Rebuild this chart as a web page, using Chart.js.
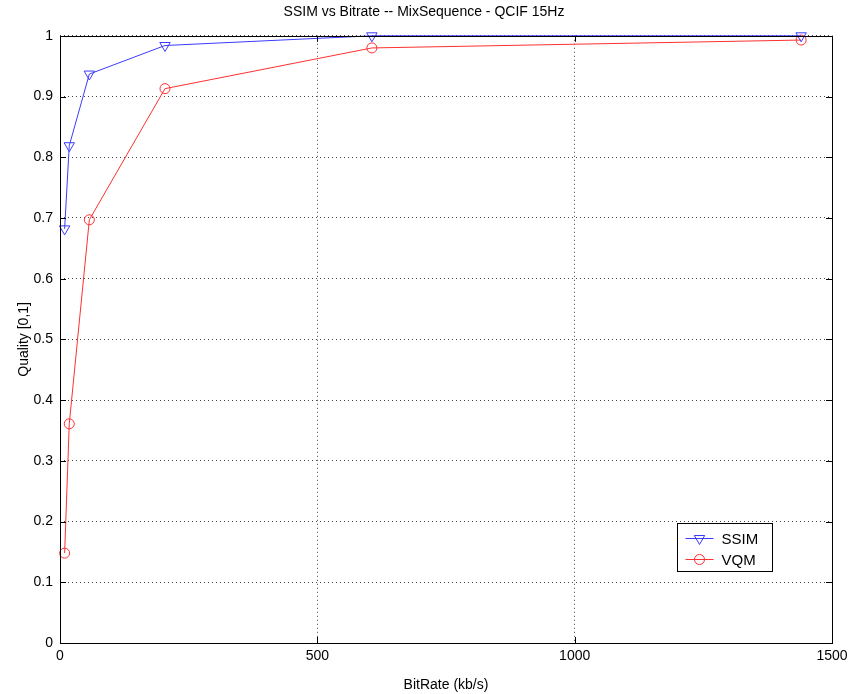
<!DOCTYPE html>
<html>
<head>
<meta charset="utf-8">
<script src="https://cdn.jsdelivr.net/npm/chart.js@4/dist/chart.umd.min.js"></script>
<style>
  html, body { margin: 0; padding: 0; background: #fff; }
  #wrap { width: 850px; height: 694px; position: relative; }
</style>
</head>
<body>
<div id="wrap"><canvas id="c"></canvas></div>
<script>
  // values
  const bitrate = [9, 18, 57, 204, 606, 1440];
  const ssim = [0.682, 0.819, 0.937, 0.984, 1.0, 1.0];
  const vqm = [0.148, 0.361, 0.697, 0.913, 0.980, 0.993];
  const xTicks = [0, 500, 1000, 1500];
  const yTicks = [0, 0.1, 0.2, 0.3, 0.4, 0.5, 0.6, 0.7, 0.8, 0.9, 1];

  const FONT = "'Liberation Sans', Arial, sans-serif";

  function pts(xs, ys) {
    return xs.map((x, i) => ({ x, y: ys[i] }));
  }

  // box around the axes + small inward tick marks, like the original plot
  const axesBox = {
    id: "axesBox",
    afterDraw(chart) {
      const { ctx, chartArea: a, scales } = chart;
      ctx.save();
      ctx.strokeStyle = "#000";
      ctx.lineWidth = 1;
      ctx.setLineDash([]);
      ctx.strokeRect(Math.round(a.left) + 0.5, Math.round(a.top) + 0.5,
        Math.round(a.right - a.left), Math.round(a.bottom - a.top));
      ctx.beginPath();
      xTicks.forEach((v) => {
        const px = Math.round(scales.x.getPixelForValue(v)) + 0.5;
        ctx.moveTo(px, a.bottom); ctx.lineTo(px, a.bottom - 6);
        ctx.moveTo(px, a.top); ctx.lineTo(px, a.top + 6);
      });
      yTicks.forEach((v) => {
        const py = Math.round(scales.y.getPixelForValue(v)) + 0.5;
        ctx.moveTo(a.left, py); ctx.lineTo(a.left + 6, py);
        ctx.moveTo(a.right, py); ctx.lineTo(a.right - 6, py);
      });
      ctx.stroke();
      ctx.restore();
    },
  };

  // legend box inside the plot, lower right
  const boxLegend = {
    id: "boxLegend",
    afterDraw(chart) {
      const { ctx, chartArea: a } = chart;
      const w = 95, h = 48;
      const x0 = Math.round(a.right - 60 - w) + 0.5;
      const y0 = Math.round(a.bottom - 72 - h) + 0.5;
      ctx.save();
      ctx.fillStyle = "#fff";
      ctx.fillRect(x0, y0, w, h);
      ctx.strokeStyle = "#000";
      ctx.lineWidth = 1;
      ctx.strokeRect(x0, y0, w, h);
      chart.data.datasets.forEach((ds, i) => {
        const y = y0 + 15 + i * 21;
        ctx.strokeStyle = ds.borderColor;
        ctx.beginPath();
        ctx.moveTo(x0 + 8, y);
        ctx.lineTo(x0 + 36, y);
        ctx.stroke();
        ctx.fillStyle = "rgba(0,0,0,0)";
        Chart.helpers.drawPoint(ctx, {
          pointStyle: ds.pointStyle,
          rotation: ds.pointRotation || 0,
          radius: ds.pointRadius,
          borderWidth: 1,
        }, x0 + 22, y);
        ctx.fillStyle = "#000";
        ctx.font = "15px " + FONT;
        ctx.textBaseline = "middle";
        ctx.textAlign = "left";
        ctx.fillText(ds.label, x0 + 44, y + 1);
      });
      ctx.restore();
    },
  };

  new Chart(document.getElementById("c"), {
    type: "line",
    data: {
      datasets: [
        {
          label: "SSIM",
          data: pts(bitrate, ssim),
          borderColor: "#3b3bff",
          backgroundColor: "rgba(0,0,0,0)",
          borderWidth: 1,
          pointStyle: "triangle",
          pointRotation: 180,
          pointRadius: 6,
          pointBorderWidth: 1,
          pointBorderColor: "#3b3bff",
          pointBackgroundColor: "rgba(0,0,0,0)",
          tension: 0,
          clip: 8,
        },
        {
          label: "VQM",
          data: pts(bitrate, vqm),
          borderColor: "#ff3030",
          backgroundColor: "rgba(0,0,0,0)",
          borderWidth: 1,
          pointStyle: "circle",
          pointRadius: 5,
          pointBorderWidth: 1,
          pointBorderColor: "#ff3030",
          pointBackgroundColor: "rgba(0,0,0,0)",
          tension: 0,
          clip: 8,
        },
      ],
    },
    options: {
      responsive: true,
      maintainAspectRatio: false,
      animation: false,
      layout: { padding: { top: 0, right: 18, bottom: 0, left: 16 } },
      plugins: {
        legend: { display: false },
        tooltip: { enabled: false },
        title: {
          display: true,
          text: "SSIM vs Bitrate -- MixSequence - QCIF 15Hz",
          color: "#000",
          font: { family: FONT, size: 14, weight: "normal" },
          padding: { top: 4, bottom: 15 },
        },
      },
      scales: {
        x: {
          type: "linear",
          min: 0,
          max: 1500,
          afterBuildTicks: (s) => { s.ticks = xTicks.map((v) => ({ value: v })); },
          afterFit: (s) => { s.height = 51; s.paddingLeft = 0; s.paddingRight = 0; },
          ticks: {
            color: "#000",
            font: { family: FONT, size: 14 },
            padding: 5,
            maxRotation: 0,
            callback: (v) => String(v),
          },
          grid: { color: "#444", drawTicks: false, lineWidth: 1 },
          border: { display: false, dash: [1, 3] },
          title: {
            display: true,
            text: "BitRate (kb/s)",
            color: "#000",
            font: { family: FONT, size: 14 },
            padding: { top: 6, bottom: 0 },
          },
        },
        y: {
          type: "linear",
          min: 0,
          max: 1,
          afterBuildTicks: (s) => { s.ticks = yTicks.map((v) => ({ value: v })); },
          afterFit: (s) => { s.width = 44; },
          ticks: {
            color: "#000",
            font: { family: FONT, size: 14 },
            padding: 7,
            callback: (v) => String(Math.round(v * 10) / 10),
          },
          grid: { color: "#444", drawTicks: false, lineWidth: 1 },
          border: { display: false, dash: [1, 3] },
          title: {
            display: true,
            text: "Quality [0,1]",
            color: "#000",
            font: { family: FONT, size: 14 },
            padding: { top: 0, bottom: 0 },
          },
        },
      },
    },
    plugins: [axesBox, boxLegend],
  });
</script>
</body>
</html>
